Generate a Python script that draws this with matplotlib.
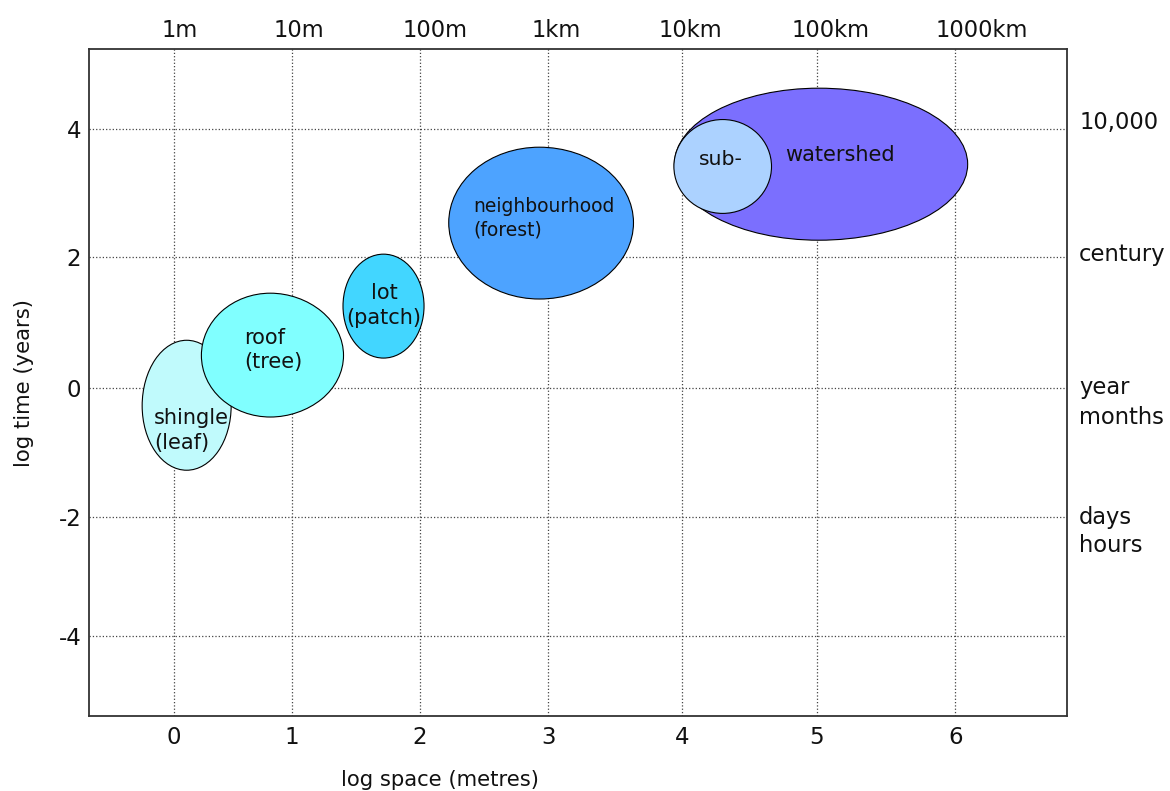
import numpy as np
import matplotlib
matplotlib.use('Agg')
import matplotlib.pyplot as plt
from matplotlib.patches import Ellipse
import matplotlib.transforms as mtransforms

# ---------------- data ----------------
scale_names = ["shingle\n(leaf)", "roof\n(tree)", "lot\n(patch)",
               "neighbourhood\n(forest)", "watershed", "sub-"]
log_space_center = [0.11, 0.82, 1.717, 2.93, 5.015, 4.30]
log_time_center = [-0.27, 0.504, 1.257, 2.54, 3.45, 3.415]
log_space_extent = [0.755, 1.17, 0.632, 1.41, 2.15, 0.727]
log_time_extent = [2.01, 1.90, 1.588, 2.35, 2.364, 1.46]
fill_colors = ["#c0fafc", "#80ffff", "#42d6ff", "#4da3ff", "#7b6ffe", "#acd2ff"]

label_x = [-0.167, 0.595, 1.72, 2.418, 5.165, 4.29]
label_y = [-0.65, 0.585, 1.27, 2.61, 3.59, 3.53]
label_ha = ["left", "left", "center", "left", "center", "center"]
label_size = [15, 15, 15, 13.5, 15, 14.7]

x_ticks = [0, 1, 2, 3, 4, 5, 6]
y_ticks = [-4, -2, 0, 2, 4]
space_names = ["1m", "10m", "100m", "1km", "10km", "100km", "1000km"]
space_name_x = [0.053, 1.058, 2.118, 3.057, 4.057, 5.103, 6.193]
time_names = ["10,000", "century", "year", "months", "days", "hours"]
time_name_y = [4.0, 1.95, -0.09, -0.56, -2.12, -2.595]

# ---------------- axis calibration (uneven hand-drawn grid) ----------------
XK_D = np.array([-1, 0, 1, 2, 3, 4, 5, 6, 7], dtype=float)
XK_P = np.array([55.8, 173.7, 291.6, 419.8, 548.4, 682.4, 816.7, 955.2, 1093.7])
YK_D = np.array([-6, -4, -2, 0, 2, 4, 6], dtype=float)
YK_P = np.array([-755.9, -636.3, -516.7, -388.3, -257.3, -128.7, 0.1])


def fx(v):
    return np.interp(v, XK_D, XK_P)


def fx_inv(p):
    return np.interp(p, XK_P, XK_D)


def fy(v):
    return np.interp(v, YK_D, YK_P)


def fy_inv(p):
    return np.interp(p, YK_P, YK_D)


fig = plt.figure(figsize=(11.7, 7.91), dpi=100)
ax = fig.add_axes([0.0759, 0.0948, 0.8364, 0.8432])
ax.set_xscale('function', functions=(fx, fx_inv))
ax.set_yscale('function', functions=(fy, fy_inv))
ax.set_xlim(-0.72, 6.81)
ax.set_ylim(-5.333, 5.24)

ax.set_xticks(x_ticks)
ax.set_xticklabels([str(t) for t in x_ticks])
ax.set_yticks(y_ticks)
ax.set_yticklabels([str(t) for t in y_ticks])
ax.tick_params(axis='both', length=0, labelsize=16.5, colors='#111111')
ax.tick_params(axis='x', pad=7)
ax.tick_params(axis='y', pad=5.5)
ax.grid(True, linestyle=':', color='#444444', linewidth=0.9)
ax.set_axisbelow(True)
for sp in ax.spines.values():
    sp.set_linewidth(1.3)
    sp.set_color('#333333')

for cx, cy, w, h, c in zip(log_space_center, log_time_center,
                           log_space_extent, log_time_extent, fill_colors):
    ax.add_patch(Ellipse((cx, cy), w, h, facecolor=c, edgecolor='black',
                         linewidth=0.8, zorder=3))

for name, lx, ly, ha, fs in zip(scale_names, label_x, label_y, label_ha, label_size):
    ax.text(lx, ly, name, ha=ha, va='center', fontsize=fs, linespacing=1.3,
            zorder=5, color='#111111')

top_tr = mtransforms.blended_transform_factory(ax.transData, ax.transAxes)
for name, sx in zip(space_names, space_name_x):
    ax.text(sx, 1.0187, name, transform=top_tr, ha='center', va='baseline',
            fontsize=16.3, color='#111111')

right_tr = mtransforms.blended_transform_factory(ax.transAxes, ax.transData)
for name, ty in zip(time_names, time_name_y):
    ax.text(1.012, ty, name, transform=right_tr, ha='left', va='baseline',
            fontsize=16.3, color='#111111')

ax.text(0.359, -0.081, "log space (metres)", transform=ax.transAxes,
        ha='center', va='top', fontsize=15.2, color='#111111')
ax.text(-0.066, 0.5, "log time (years)", transform=ax.transAxes, rotation=90,
        ha='center', va='center', fontsize=15.2, color='#111111')

fig.savefig("out.png", dpi=100)
